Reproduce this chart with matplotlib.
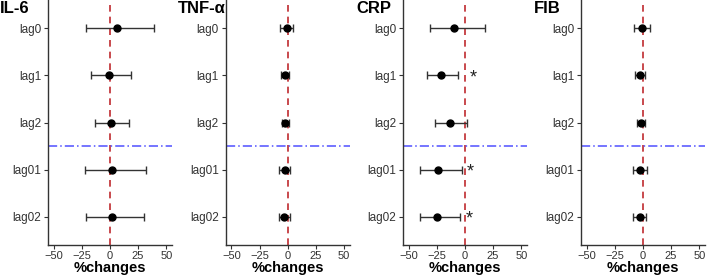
import matplotlib.pyplot as plt

plt.rcParams['font.family'] = ['Liberation Sans', 'DejaVu Sans']

lags = ['lag0', 'lag1', 'lag2', 'lag01', 'lag02']
titles = ['IL-6', 'TNF-α', 'CRP', 'FIB']

# point estimate, lower and upper CI (% change)
il6_est = [6, -1, 0.5, 2, 2]
il6_lo = [-21, -17, -13.5, -22, -21]
il6_hi = [39, 19, 17, 32, 30]

tnf_est = [-0.5, -2.5, -2, -2.5, -3]
tnf_lo = [-6.5, -6, -5, -7.5, -7.5]
tnf_hi = [4.5, 1, 1.5, 2.5, 2.5]

crp_est = [-9.7, -21, -13.5, -24, -24.5]
crp_lo = [-31, -33.5, -27, -40, -40]
crp_hi = [17.6, -6.5, 2, -3, -4]

fib_est = [-1, -2.4, -1.8, -2.7, -2.7]
fib_lo = [-7.7, -7, -5.6, -8.5, -9]
fib_hi = [6, 2, 2, 3.2, 3]

# significance marks for CRP (x position of the asterisk, None = no mark)
crp_star = [None, 7, None, 4.5, 4]

panels = [
    (il6_est, il6_lo, il6_hi, None),
    (tnf_est, tnf_lo, tnf_hi, None),
    (crp_est, crp_lo, crp_hi, crp_star),
    (fib_est, fib_lo, fib_hi, None),
]

fig = plt.figure(figsize=(7.08, 2.78), dpi=100)
lefts = [0.0678, 0.3188, 0.5692, 0.8206]
title_x = [0.0, 0.251, 0.503, 0.754]

for k, (est, lo, hi, star) in enumerate(panels):
    ax = fig.add_axes([lefts[k], 0.1187, 0.175, 0.8813])
    y = list(range(len(lags)))
    xerr = [[e - l for e, l in zip(est, lo)], [h - e for e, h in zip(est, hi)]]
    ax.errorbar(est, y, xerr=xerr, fmt='o', color='black', ecolor='#333333',
                elinewidth=1.0, capsize=2.8, capthick=1.0, markersize=5, zorder=3)
    ax.axvline(0, color='#BF2A2F', linestyle=(0, (4, 3)), linewidth=1.2, zorder=2)
    ax.axhline(2.5, color='#5050FF', linestyle=(0, (6, 2, 1, 2)), linewidth=1.1, zorder=2)
    if star is not None:
        for i, sx in enumerate(star):
            if sx is not None:
                ax.text(sx, y[i] + 0.05, '*', fontsize=13, ha='center', va='center',
                        color='#222222')
    ax.set_xlim(-55, 55)
    ax.set_ylim(len(lags) - 0.4, -0.6)
    ax.set_xticks([-50, -25, 0, 25, 50])
    ax.set_yticks(y)
    ax.set_yticklabels(lags)
    ax.tick_params(labelsize=8.5, colors='#333333', length=3, width=0.8, pad=2)
    ax.tick_params(axis='x', labelsize=8, pad=1.5)
    for side in ['top', 'right']:
        ax.spines[side].set_visible(False)
    for side in ['left', 'bottom']:
        ax.spines[side].set_color('#333333')
        ax.spines[side].set_linewidth(1.0)
    ax.set_xlabel('%changes', fontsize=10.5, fontweight='bold')
    ax.xaxis.set_label_coords(0.5, -0.093)
    ax.xaxis.label.set_va('center')
    fig.text(title_x[k], 0.995, titles[k], fontsize=12, fontweight='bold', ha='left', va='top')

fig.savefig('out.png', dpi=100)
